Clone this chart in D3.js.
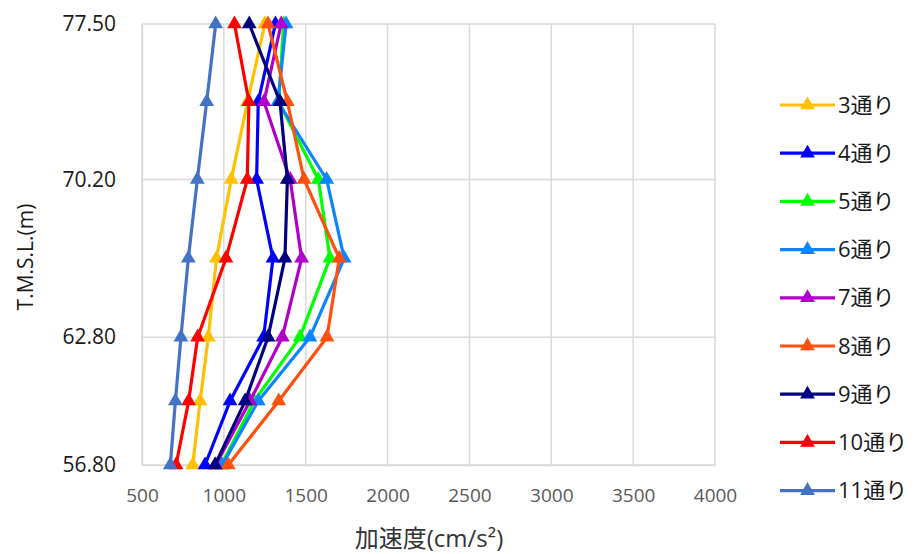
<!DOCTYPE html>
<html><head><meta charset="utf-8">
<script src="https://cdn.jsdelivr.net/npm/d3@7"></script>
<style>body{margin:0;background:#fff;} svg{display:block;}</style>
</head><body>
<svg id="chart" width="917" height="554"></svg>
<script>
const levels = [77.50, 73.85, 70.20, 66.50, 62.80, 59.80, 56.80];
const yTicks = [56.80, 62.80, 70.20, 77.50];
const xTicks = [500, 1000, 1500, 2000, 2500, 3000, 3500, 4000];
const seriesNames = ["3通り","4通り","5通り","6通り","7通り","8通り","9通り","10通り","11通り"];
const seriesColors = ["#FFC000","#0000FF","#00FF00","#0A84FF","#B000C8","#FF5010","#000080","#FF0000","#4472C4"];
const s3  = [1250, 1145, 1045, 955, 905, 855, 810];
const s4  = [1315, 1210, 1200, 1300, 1243, 1038, 885];
const s5  = [1365, 1335, 1577, 1648, 1465, 1185, 985];
const s6  = [1380, 1330, 1628, 1735, 1526, 1210, 990];
const s7  = [1350, 1245, 1405, 1475, 1357, 1160, 950];
const s8  = [1270, 1388, 1490, 1705, 1630, 1335, 1027];
const s9  = [1155, 1343, 1388, 1373, 1270, 1130, 946];
const s10 = [1065, 1153, 1143, 1013, 840, 785, 708];
const s11 = [950, 895, 838, 783, 738, 704, 673];
const seriesValues = [s3, s4, s5, s6, s7, s8, s9, s10, s11];

const svg = d3.select("#chart");
const L = 142, R = 715, T = 24, B = 465;
const x = d3.scaleLinear().domain([500, 4000]).range([L, R]);
const y = d3.scaleLinear().domain([56.8, 77.5]).range([B, T]);
const font = "'Open Sans', 'Noto Sans CJK JP', sans-serif";

// gridlines
const grid = svg.append("g");
grid.selectAll("line.v").data(xTicks).enter().append("line")
  .attr("x1", d => x(d)).attr("x2", d => x(d)).attr("y1", T).attr("y2", B)
  .attr("stroke", "#d9d9d9").attr("stroke-width", 1.5);
grid.selectAll("line.h").data(yTicks).enter().append("line")
  .attr("x1", L).attr("x2", R).attr("y1", d => y(d)).attr("y2", d => y(d))
  .attr("stroke", "#d9d9d9").attr("stroke-width", 1.5);

// axes
const xAxis = d3.axisBottom(x).tickValues(xTicks).tickSize(0).tickPadding(24).tickFormat(d3.format("d"));
const gx = svg.append("g").attr("transform", `translate(0,${B})`).call(xAxis);
gx.select(".domain").attr("stroke", "#d9d9d9").attr("stroke-width", 1.5);
gx.selectAll("text").attr("font-family", font).attr("font-size", 19).attr("fill", "#595959");

const yAxis = d3.axisLeft(y).tickValues(yTicks).tickSize(0).tickPadding(26).tickFormat(d3.format(".2f"));
const gy = svg.append("g").attr("transform", `translate(${L},0)`).call(yAxis);
gy.select(".domain").attr("stroke", "#d9d9d9").attr("stroke-width", 1.5);
gy.selectAll("text").attr("font-family", font).attr("font-size", 21).attr("fill", "#1a1a1a");

// axis titles
svg.append("text").attr("x", 429).attr("y", 547).attr("text-anchor", "middle")
  .attr("font-family", font).attr("font-size", 24).attr("fill", "#333").text("加速度(cm/s²)");
svg.append("text").attr("transform", "translate(33,257) rotate(-90)").attr("text-anchor", "middle")
  .attr("font-family", font).attr("font-size", 21).attr("fill", "#1a1a1a").text("T.M.S.L.(m)");

// series
const line = d3.line().x(d => x(d.v)).y(d => y(d.h));
const tri = d3.symbol().type(d3.symbolTriangle).size(95);
seriesValues.forEach((vals, i) => {
  const pts = vals.map((v, j) => ({v, h: levels[j]}));
  const g = svg.append("g");
  g.append("path").datum(pts).attr("d", line).attr("fill", "none")
    .attr("stroke", seriesColors[i]).attr("stroke-width", 3.2).attr("stroke-linejoin", "round");
  g.selectAll("path.m").data(pts).enter().append("path").attr("class", "m")
    .attr("d", tri).attr("transform", d => `translate(${x(d.v)},${y(d.h)})`)
    .attr("fill", seriesColors[i]);
});

// legend
const lg = svg.append("g");
seriesNames.forEach((name, i) => {
  const cy = 105 + i * 48.2;
  lg.append("line").attr("x1", 780).attr("x2", 835).attr("y1", cy).attr("y2", cy)
    .attr("stroke", seriesColors[i]).attr("stroke-width", 3.2);
  lg.append("path").attr("d", tri).attr("transform", `translate(807.5,${cy})`).attr("fill", seriesColors[i]);
  lg.append("text").attr("x", 838).attr("y", cy + 7.5).attr("font-family", font)
    .attr("font-size", 22).attr("fill", "#1a1a1a").text(name);
});
</script>
</body></html>
